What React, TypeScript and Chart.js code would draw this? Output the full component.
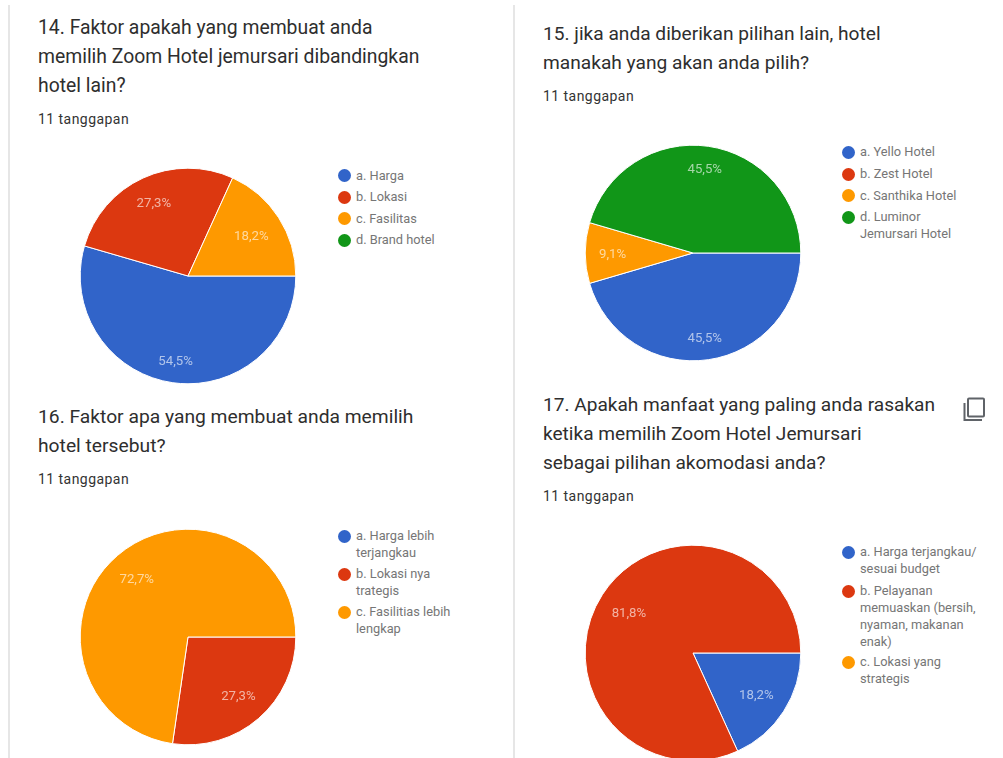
import React, { useEffect, useRef } from "react";
import { Chart, registerables } from "chart.js";

Chart.register(...registerables);

const colors = ["#3164c9", "#dc3810", "#fe9900", "#119618"];

const labels14 = ["a. Harga", "b. Lokasi", "c. Fasilitas", "d. Brand hotel"];
const values14 = [54.5, 27.3, 18.2, 0];
const title14 = ["14. Faktor apakah yang membuat anda", "memilih Zoom Hotel jemursari dibandingkan", "hotel lain?"];

const labels15 = ["a. Yello Hotel", "b. Zest Hotel", "c. Santhika Hotel", "d. Luminor\nJemursari Hotel"];
const values15 = [45.5, 0, 9.1, 45.5];
const title15 = ["15. jika anda diberikan pilihan lain, hotel", "manakah yang akan anda pilih?"];

const labels16 = ["a. Harga lebih\nterjangkau", "b. Lokasi nya\ntrategis", "c. Fasilitias lebih\nlengkap"];
const values16 = [0, 27.3, 72.7];
const title16 = ["16. Faktor apa yang membuat anda memilih", "hotel tersebut?"];

const labels17 = ["a. Harga terjangkau/\nsesuai budget", "b. Pelayanan\nmemuaskan (bersih,\nnyaman, makanan\nenak)", "c. Lokasi yang\nstrategis"];
const values17 = [18.2, 81.8, 0];
const title17 = ["17. Apakah manfaat yang paling anda rasakan", "ketika memilih Zoom Hotel Jemursari", "sebagai pilihan akomodasi anda?"];

const responses = "11 tanggapan";

const FONT = "Roboto, 'Noto Sans', sans-serif";
const R = 107.8;
const HALF = 120;

const sliceLabels = {
  id: "sliceLabels",
  afterDatasetsDraw(chart: any) {
    const { ctx } = chart;
    const meta = chart.getDatasetMeta(0);
    const data = chart.data.datasets[0].data as number[];
    ctx.save();
    ctx.font = `13.2px ${FONT}`;
    ctx.fillStyle = "rgba(255,255,255,0.62)";
    ctx.textAlign = "center";
    ctx.textBaseline = "middle";
    meta.data.forEach((arc: any, i: number) => {
      if (!data[i]) return;
      const text = data[i].toFixed(1).replace(".", ",") + "%";
      const mid = (arc.startAngle + arc.endAngle) / 2;
      const c = Math.cos(mid);
      const s = Math.sin(mid);
      const hw = ctx.measureText(text).width / 2;
      const dist = 93.5 - (Math.abs(c) * hw + Math.abs(s) * 6);
      ctx.fillText(text, arc.x + c * dist - 0.4, arc.y + s * dist + 1.4);
    });
    ctx.restore();
  },
};

function Pie({ cx, cy, values, labels }: { cx: number; cy: number; values: number[]; labels: string[] }) {
  const ref = useRef<HTMLCanvasElement>(null);
  useEffect(() => {
    const chart = new Chart(ref.current!, {
      type: "pie",
      data: {
        labels,
        datasets: [
          {
            data: values,
            backgroundColor: colors.slice(0, values.length),
            borderColor: "#ffffff",
            borderWidth: 1,
            radius: R,
          },
        ],
      },
      options: {
        animation: false,
        responsive: false,
        rotation: 90,
        layout: { padding: 0 },
        plugins: { legend: { display: false }, tooltip: { enabled: false } },
      },
      plugins: [sliceLabels],
    } as any);
    return () => chart.destroy();
  }, []);
  return (
    <canvas
      ref={ref}
      width={HALF * 2}
      height={HALF * 2}
      style={{ position: "absolute", left: cx - HALF, top: cy - HALF, width: HALF * 2, height: HALF * 2 }}
    />
  );
}

function Title({ x, y, lines, size }: { x: number; y: number; lines: string[]; size: number }) {
  return (
    <>
      {lines.map((t, i) => (
        <div
          key={i}
          style={{
            position: "absolute",
            left: x,
            top: y + i * 28.8 - 14,
            lineHeight: "28px",
            fontSize: size,
            color: "#2e2e2e",
            whiteSpace: "nowrap",
          }}
        >
          {t}
        </div>
      ))}
    </>
  );
}

function Sub({ x, y }: { x: number; y: number }) {
  return (
    <div
      style={{
        position: "absolute",
        left: x,
        top: y - 10,
        lineHeight: "20px",
        fontSize: 14,
        letterSpacing: 0.45,
        color: "#333333",
        whiteSpace: "nowrap",
      }}
    >
      {responses}
    </div>
  );
}

function Legend({ x, ys, labels }: { x: number; ys: number[]; labels: string[] }) {
  return (
    <>
      {labels.map((l, i) => (
        <React.Fragment key={i}>
          <div
            style={{
              position: "absolute",
              left: x - 6.5,
              top: ys[i] - 6.5,
              width: 13,
              height: 13,
              borderRadius: "50%",
              background: colors[i],
            }}
          />
          {l.split("\n").map((t, j) => (
            <div
              key={j}
              style={{
                position: "absolute",
                left: x + 11.5,
                top: ys[i] + j * 16.8 - 8.7,
                lineHeight: "18px",
                fontSize: 12.8,
                color: "#767676",
                whiteSpace: "nowrap",
              }}
            >
              {t}
            </div>
          ))}
        </React.Fragment>
      ))}
    </>
  );
}

export default function App() {
  return (
    <div
      style={{
        position: "fixed",
        left: 0,
        top: 0,
        width: 1003,
        height: 758,
        overflow: "hidden",
        background: "#fff",
        fontFamily: FONT,
        filter: "blur(0.45px)",
      }}
    >
      <div style={{ position: "absolute", left: 8, top: 5, width: 1.6, height: 753, background: "#e6e6e6" }} />
      <div style={{ position: "absolute", left: 513, top: 5, width: 1.6, height: 753, background: "#e6e6e6" }} />

      <Title x={38} y={28} lines={title14} size={19.35} />
      <Sub x={38} y={118.5} />
      <Pie cx={188.4} cy={276} values={values14} labels={labels14} />
      <Legend x={344.5} ys={[175.5, 197, 218.5, 240]} labels={labels14} />

      <Title x={543} y={34} lines={title15} size={19.15} />
      <Sub x={543} y={95.5} />
      <Pie cx={693.1} cy={253} values={values15} labels={labels15} />
      <Legend x={848.5} ys={[152, 174, 195.5, 217]} labels={labels15} />

      <Title x={38} y={417} lines={title16} size={19.25} />
      <Sub x={38} y={478.5} />
      <Pie cx={188.4} cy={637} values={values16} labels={labels16} />
      <Legend x={344.5} ys={[536, 574, 612]} labels={labels16} />

      <Title x={543} y={405.2} lines={title17} size={19.1} />
      <Sub x={543} y={495.5} />
      <Pie cx={693.4} cy={653} values={values17} labels={labels17} />
      <Legend x={848.5} ys={[552, 591, 662]} labels={labels17} />

      <svg
        viewBox="0 0 24 26"
        style={{ position: "absolute", left: 962, top: 396, width: 24, height: 26 }}
        fill="none"
        stroke="#5f6368"
        strokeWidth="2"
      >
        <rect x="6" y="2.5" width="16" height="18" rx="1" />
        <path d="M2.5 7 V24 H20" />
      </svg>
    </div>
  );
}
